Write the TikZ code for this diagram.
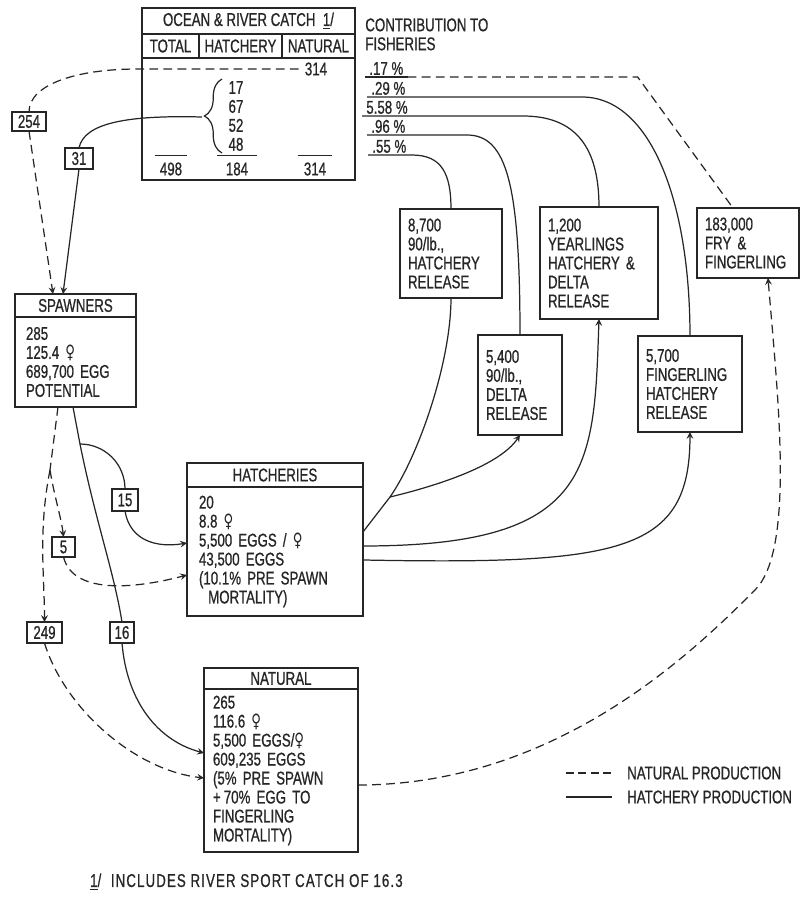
\documentclass[tikz,border=0pt]{standalone}
\usepackage{fontspec}
\setmainfont{Liberation Sans}[FakeStretch=0.72, FakeBold=0.8]
\newfontfamily\femfont{DejaVu Sans}[FakeStretch=0.72]
\newcommand{\femsign}{{\femfont\char"2640}}
\usetikzlibrary{arrows,shapes,positioning,decorations.pathreplacing}

\begin{document}
\begin{tikzpicture}[x=0.02cm, y=-0.02cm, color=black!85,
    font=\fontsize{10.5}{10.8}\selectfont,
    box/.style={draw, line width=0.8pt, inner sep=0pt, outer sep=0pt},
    titlebox/.style={box, anchor=north west},
    bodybox/.style={box, align=left},
    relbox/.style={box, anchor=north west, align=left, inner xsep=0.16cm},
    tag/.style={box, anchor=north west, line width=0.7pt},
    pct/.style={anchor=south west, inner xsep=0.08cm, inner ysep=1pt},
    sumnum/.style={inner xsep=0pt, inner ysep=0.13cm},
    hatline/.style={line width=0.7pt},
    natline/.style={line width=0.7pt, dash pattern=on 5pt off 3pt},
    arrow/.style={->, >=stealth}]

    \useasboundingbox (0,0) rectangle (809,914);

    % Catch table
    \node[titlebox, minimum width=4.26cm, minimum height=0.52cm] (catchT) at (142,8) {OCEAN \& RIVER CATCH \ \underline{1}/};
    \node[box, minimum width=1.14cm, minimum height=0.48cm, below right=0pt and 0pt of catchT.south west] (totH) {TOTAL};
    \node[box, minimum width=1.66cm, minimum height=0.48cm, right=0pt of totH] (hatH) {HATCHERY};
    \node[box, minimum width=1.46cm, minimum height=0.48cm, right=0pt of hatH] (natH) {NATURAL};
    \node[box, minimum width=4.26cm, minimum height=2.44cm, below right=0pt and 0pt of totH.south west] (catch) {};

    \node (catch314) at (316,69) {314};
    \node[align=left, inner sep=0pt] (hatnums) at (236,116) {17\\67\\52\\48};
    \draw[hatline, decorate, decoration={brace, amplitude=0.35cm}] (222,153) -- (222,79);
    \coordinate (bracetip) at (202,117);
    \node[sumnum, minimum width=0.64cm] (tot498) at (171,169) {498};
    \node[sumnum, minimum width=0.78cm] (tot184) at (237,169) {184};
    \node[sumnum, minimum width=0.68cm] (tot314) at (315,169) {314};
    \foreach \n in {tot498, tot184, tot314}
        \draw[hatline] (\n.north west) -- (\n.north east);

    % Contribution to fisheries
    \node[anchor=north west, align=left, inner sep=0pt] (contrib) at (365,18) {CONTRIBUTION TO\\FISHERIES};
    \node[pct] (pct17) at (365,77) {.17 \%};
    \node[pct] (pct29) at (367,97) {.29 \%};
    \node[pct] (pct558) at (362,116) {5.58 \%};
    \node[pct] (pct96) at (367,135) {.96 \%};
    \node[pct] (pct55) at (368,155) {.55 \%};

    % Spawners
    \node[titlebox, minimum width=2.42cm, minimum height=0.46cm] (spawnT) at (15,294) {SPAWNERS};
    \node[bodybox, below=0pt of spawnT, minimum width=2.42cm, minimum height=1.8cm, text width=1.98cm, inner xsep=0.22cm] (spawn)
        {285\\125.4 \femsign\\689,700 EGG\\POTENTIAL};

    % Hatcheries
    \node[titlebox, minimum width=3.52cm, minimum height=0.48cm] (hatchT) at (187,463) {HATCHERIES};
    \node[bodybox, below=0pt of hatchT, minimum width=3.52cm, minimum height=2.58cm, text width=3.04cm, inner xsep=0.24cm] (hatch)
        {20\\8.8 \femsign\\5,500 EGGS / \femsign\\43,500 EGGS\\(10.1\% PRE SPAWN\\\hspace*{0.5em}MORTALITY)};

    % Natural
    \node[titlebox, minimum width=3.08cm, minimum height=0.42cm] (natT) at (204,668) {NATURAL};
    \node[bodybox, below=0pt of natT, minimum width=3.08cm, minimum height=3.26cm, text width=2.72cm, inner xsep=0.18cm] (nat)
        {265\\116.6 \femsign\\5,500 EGGS/\femsign\\609,235 EGGS\\(5\% PRE SPAWN\\+\,70\% EGG TO\\FINGERLING\\MORTALITY)};

    % Releases
    \node[relbox, minimum width=2.04cm, minimum height=1.78cm, text width=1.72cm] (rel8700) at (400,209) {8,700\\90/lb.,\\HATCHERY\\RELEASE};
    \node[relbox, minimum width=2.36cm, minimum height=2.24cm, text width=2.04cm] (rel1200) at (540,207) {1,200\\YEARLINGS\\HATCHERY \&\\DELTA\\RELEASE};
    \node[relbox, minimum width=2.04cm, minimum height=1.4cm, text width=1.72cm] (rel183) at (697,208) {183,000\\FRY \&\\FINGERLING};
    \node[relbox, minimum width=1.68cm, minimum height=2.0cm, text width=1.36cm] (rel5400) at (478,335) {5,400\\90/lb.,\\DELTA\\RELEASE};
    \node[relbox, minimum width=2.08cm, minimum height=1.92cm, text width=1.76cm] (rel5700) at (638,336) {5,700\\FINGERLING\\HATCHERY\\RELEASE};

    % Flow numbers
    \node[tag, minimum width=0.68cm, minimum height=0.38cm] (n254) at (12,112) {254};
    \node[tag, minimum width=0.56cm, minimum height=0.42cm] (n31) at (65,148) {31};
    \node[tag, minimum width=0.52cm, minimum height=0.44cm] (n15) at (112,489) {15};
    \node[tag, minimum width=0.46cm, minimum height=0.40cm] (n5) at (52,537) {5};
    \node[tag, minimum width=0.70cm, minimum height=0.42cm] (n249) at (27,622) {249};
    \node[tag, minimum width=0.48cm, minimum height=0.42cm] (n16) at (110,622) {16};

    % Catch -> spawners
    \draw[natline] (catch314.west) -- ++(-161,0) .. controls +(-60,0) and +(0,-28) .. (n254.north);
    \draw[natline, arrow] (n254.south) -- ([xshift=-0.45cm]spawnT.north);
    \draw[hatline] (bracetip) .. controls +(-75,-2) and +(5,-25) .. (n31.north);
    \draw[hatline, arrow] (n31.south) -- ([xshift=-0.25cm]spawnT.north);

    % Spawners -> hatcheries, natural
    \coordinate (natsplit) at (50,470);
    \coordinate (hatsplit) at (80,444);
    \draw[natline] ([xshift=-0.35cm]spawn.south) -- (natsplit);
    \draw[natline, arrow] (natsplit) .. controls +(4,25) and +(-2,-18) .. (n5.north);
    \draw[natline, arrow] (natsplit) .. controls +(-12,60) and +(0,-45) .. (n249.north);
    \draw[hatline] ([xshift=-0.05cm]spawn.south) -- (hatsplit);
    \draw[hatline] (hatsplit) .. controls +(15,75) and +(-8,-50) .. (n16.north);
    \draw[hatline] (hatsplit) .. controls +(25,0) and +(0,-25) .. (n15.north);
    \draw[hatline, arrow] (n15.south) .. controls +(5,30) and +(-30,5) .. ([yshift=0.17cm]hatch.west);
    \draw[natline, arrow] (n5.south) .. controls +(10,40) and +(-45,12) .. ([yshift=-0.47cm]hatch.west);
    \draw[hatline, arrow] (n16.south) .. controls +(5,60) and +(-45,-12) .. ([yshift=0.35cm]nat.west);
    \draw[natline, arrow] (n249.south) .. controls +(20,65) and +(-70,-8) .. ([yshift=-0.15cm]nat.west);

    % Hatcheries -> releases
    \coordinate (relsplit) at (390,497);
    \draw[hatline] ([yshift=-0.9cm]hatch.north east) -- (relsplit) .. controls +(28,-40) and +(0,65) .. (rel8700.south);
    \draw[hatline, arrow] (relsplit) .. controls +(50,-12) and +(-20,30) .. (rel5400.south);
    \draw[hatline, arrow] ([yshift=-1.18cm]hatch.north east) .. controls +(230,0) and +(-5,150) .. (rel1200.south);
    \draw[hatline, arrow] ([yshift=-1.46cm]hatch.north east) .. controls +(260,5) and +(0,120) .. (rel5700.south);

    % Releases -> fisheries
    \draw[hatline] (pct55.south west) -- ++(44,0) .. controls +(30,0) and +(0,-35) .. (rel8700.north);
    \draw[hatline] (pct96.south west) -- ++(100,0) .. controls +(40,0) and +(0,-150) .. (rel5400.north);
    \draw[hatline] (pct558.south west) -- ++(161,0) .. controls +(60,0) and +(0,-50) .. (rel1200.north);
    \draw[hatline] (pct29.south west) -- ++(215,0) .. controls +(68,0) and +(0,-136) .. (rel5700.north);
    \draw[hatline] (pct17.south west) -- (pct17.south east);
    \draw[natline] (pct17.south east) -- ++(230,0) -- ([xshift=-0.3cm]rel183.north);

    % Natural -> fry
    \coordinate (frybend) at (755,590);
    \draw[natline, arrow] ([yshift=-0.29cm]nat.east) .. controls +(200,0) and +(-60,60) .. (frybend)
        .. controls +(40,-40) and +(10,120) .. ([xshift=0.4cm]rel183.south);

    % Legend
    \node[anchor=west] (legnat) at (621,773) {NATURAL PRODUCTION};
    \node[anchor=west] (leghat) at (621,797) {HATCHERY PRODUCTION};
    \draw[natline, dash pattern=on 4.5pt off 2.5pt] ([xshift=-1.1cm]legnat.west) -- ([xshift=-0.18cm]legnat.west);
    \draw[hatline] ([xshift=-1.1cm]leghat.west) -- ([xshift=-0.18cm]leghat.west);

    % Footnote
    \node[anchor=west] (footnote) at (84,882) {\addfontfeature{LetterSpace=6}\underline{1}/ \ INCLUDES RIVER SPORT CATCH OF 16.3};
\end{tikzpicture}
\end{document}
